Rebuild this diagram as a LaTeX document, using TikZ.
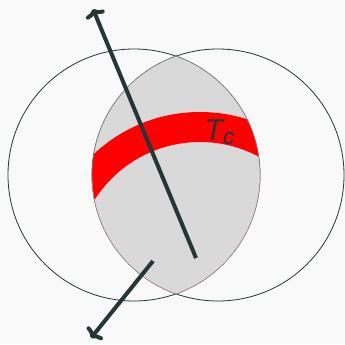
\documentclass[tikz,border=0pt]{standalone}
\usepackage{fontspec}
\setsansfont{Liberation Sans}
\usetikzlibrary{arrows.meta,positioning}
\definecolor{slate}{HTML}{243636}
\definecolor{paper}{HTML}{F9F9F9}
\definecolor{lensgray}{HTML}{D9D9D9}
\definecolor{rim}{HTML}{C08A8A}

\begin{document}
\begin{tikzpicture}[x=0.75pt,y=0.75pt,
  ring/.style={draw=slate,line width=0.6pt},
  flow/.style={draw=slate,line width=3pt,-{To[length=6pt,width=15pt]}}]
\fill[paper] (0,0) rectangle (345,344);
\useasboundingbox (0,0) rectangle (345,344);
\coordinate (cl) at (134,169);
\coordinate (cr) at (218,169);
\coordinate (cb) at (200,77);
% the two discs
\draw[ring] (cl) circle (126); \draw[ring] (cr) circle (126);
\begin{scope}
\clip (cl) circle (126);
\clip (cr) circle (126);
\fill[lensgray] (cr) circle (126);
\fill[red,even odd rule] (cb) circle (155) (cb) circle (125);
\end{scope}
% rim of the overlap
\draw[gray,line width=0.3pt] (cr) ++(109.47:126) arc[start angle=109.47,end angle=180,radius=126];
\draw[gray,line width=0.3pt] (cl) ++(0:126) arc[start angle=0,end angle=70.53,radius=126];
\draw[rim,line width=0.3pt] (cr) ++(180:126) arc[start angle=180,end angle=250.53,radius=126];
\draw[rim,line width=0.3pt] (cl) ++(-70.53:126) arc[start angle=-70.53,end angle=0,radius=126];
% arrows
\coordinate (u0) at (196,86); \coordinate (u1) at (93,335);
\coordinate (d0) at (153,83); \coordinate (d1) at (91,6);
\draw[flow] (u0) -- (u1); \draw[flow] (d0) -- (d1);
\node[font=\sffamily\itshape\fontsize{22.5}{22.5}\selectfont,text=slate,inner sep=0pt] (tc) at (219.5,212) {T\raisebox{-3pt}{\fontsize{17}{17}\selectfont c}};
\end{tikzpicture}
\end{document}
